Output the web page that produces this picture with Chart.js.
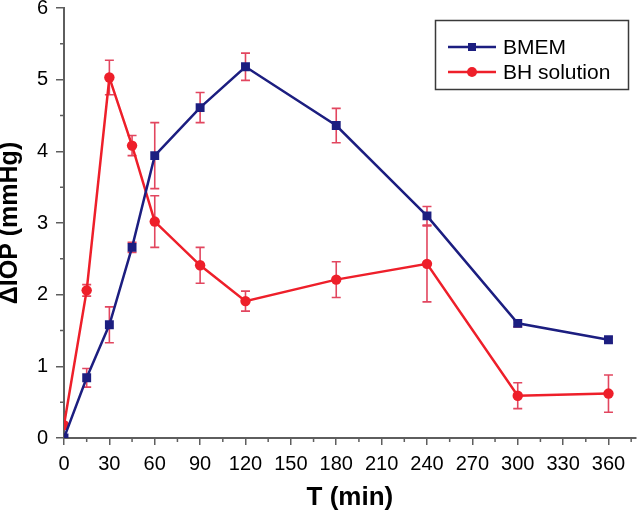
<!DOCTYPE html>
<html>
<head>
<meta charset="utf-8">
<script src="https://cdn.jsdelivr.net/npm/chart.js@4"></script>
<style>
  html, body { margin: 0; padding: 0; background: #fff; }
  #wrap { width: 642px; height: 515px; }
</style>
</head>
<body>
<div id="wrap"><canvas id="chart" width="642" height="515"></canvas></div>
<script>
// values (time in min, change in IOP in mmHg)
const times = [0, 15, 30, 45, 60, 90, 120, 180, 240, 300, 360];
const bmem = [0, 0.84, 1.58, 2.66, 3.94, 4.61, 5.18, 4.36, 3.10, 1.60, 1.37];
const bmemErr = [0, 0.13, 0.25, 0.07, 0.46, 0.21, 0.19, 0.24, 0.13, 0.05, 0.04];
const bhSolution = [0.18, 2.06, 5.03, 4.08, 3.02, 2.41, 1.91, 2.21, 2.43, 0.59, 0.62];
const bhErr = [0, 0.08, 0.24, 0.14, 0.36, 0.25, 0.14, 0.25, 0.53, 0.18, 0.26];
const seriesNames = ['BMEM', 'BH solution'];
const xTickValues = [0, 30, 60, 90, 120, 150, 180, 210, 240, 270, 300, 330, 360];

const navy = '#1c1e80';
const red = '#ee1f2a';
const errColor = '#e2465f';
const axisColor = '#5e5e5e';
const FONT = '"Liberation Sans", Arial, sans-serif';

function toPoints(vals) {
  return times.map((t, i) => ({ x: t, y: vals[i] }));
}

// error bars, drawn under the lines through the chart's own scales
const errorBars = {
  id: 'errorBars',
  beforeDatasetsDraw(chart) {
    const { ctx, scales: { x, y } } = chart;
    const errs = [bmemErr, bhErr];
    ctx.save();
    ctx.strokeStyle = errColor;
    ctx.lineWidth = 1.6;
    chart.data.datasets.forEach((ds, di) => {
      ds.data.forEach((p, i) => {
        const e = errs[di][i];
        if (!e) return;
        const px = x.getPixelForValue(p.x);
        const top = y.getPixelForValue(p.y + e);
        const bot = y.getPixelForValue(p.y - e);
        ctx.beginPath();
        ctx.moveTo(px, top); ctx.lineTo(px, bot);
        ctx.moveTo(px - 4.5, top); ctx.lineTo(px + 4.5, top);
        ctx.moveTo(px - 4.5, bot); ctx.lineTo(px + 4.5, bot);
        ctx.stroke();
      });
    });
    ctx.restore();
  }
};

// minor ticks (every 15 min on x, every 0.5 on y)
const minorTicks = {
  id: 'minorTicks',
  afterDraw(chart) {
    const { ctx, scales: { x, y }, chartArea } = chart;
    ctx.save();
    ctx.strokeStyle = axisColor;
    ctx.lineWidth = 1.5;
    ctx.beginPath();
    for (let v = 15; v <= x.max; v += 30) {
      const px = x.getPixelForValue(v);
      ctx.moveTo(px, chartArea.bottom);
      ctx.lineTo(px, chartArea.bottom + 4);
    }
    for (let v = 0.5; v < y.max; v += 1) {
      const py = y.getPixelForValue(v);
      ctx.moveTo(chartArea.left, py);
      ctx.lineTo(chartArea.left - 4, py);
    }
    ctx.stroke();
    ctx.restore();
  }
};

// boxed legend with line + marker samples, top right
const boxLegend = {
  id: 'boxLegend',
  afterDraw(chart) {
    const { ctx } = chart;
    ctx.save();
    ctx.strokeStyle = '#3a3a3a';
    ctx.lineWidth = 1.5;
    ctx.strokeRect(435.5, 20.5, 193, 69);
    ctx.font = '21px ' + FONT;
    ctx.textBaseline = 'middle';
    chart.data.datasets.forEach((ds, i) => {
      const yy = 47 + i * 25;
      ctx.strokeStyle = ds.borderColor;
      ctx.lineWidth = 2.5;
      ctx.beginPath();
      ctx.moveTo(448, yy); ctx.lineTo(496, yy);
      ctx.stroke();
      ctx.fillStyle = ds.borderColor;
      if (ds.pointStyle === 'rect') {
        ctx.fillRect(468, yy - 4, 8, 8);
      } else {
        ctx.beginPath();
        ctx.arc(472, yy, 5, 0, Math.PI * 2);
        ctx.fill();
      }
      ctx.fillStyle = '#000';
      ctx.fillText(seriesNames[i], 503, yy + 1);
    });
    ctx.restore();
  }
};

new Chart(document.getElementById('chart'), {
  type: 'line',
  data: {
    datasets: [
      {
        label: seriesNames[0],
        data: toPoints(bmem),
        borderColor: navy,
        backgroundColor: navy,
        borderWidth: 2.5,
        pointStyle: 'rect',
        pointRadius: 6.3,
        pointBorderWidth: 0,
        tension: 0
      },
      {
        label: seriesNames[1],
        data: toPoints(bhSolution),
        borderColor: red,
        backgroundColor: red,
        borderWidth: 2.5,
        pointStyle: 'circle',
        pointRadius: 5.2,
        pointBorderWidth: 0,
        tension: 0
      }
    ]
  },
  options: {
    responsive: false,
    animation: false,
    layout: { padding: { left: 0, top: 8, right: 2, bottom: 0 } },
    plugins: {
      legend: { display: false },
      tooltip: { enabled: false }
    },
    scales: {
      x: {
        type: 'linear',
        min: 0,
        max: 378,
        afterBuildTicks(s) {
          s.ticks = xTickValues.map(v => ({ value: v }));
        },
        afterFit(s) {
          s.height = 77;
          s.paddingLeft = 0; s.paddingRight = 0;
        },
        ticks: {
          maxRotation: 0,
          autoSkip: false,
          padding: 7,
          color: '#000',
          font: { family: FONT, size: 20 }
        },
        grid: { drawOnChartArea: false, drawTicks: true, tickLength: 7, color: axisColor, lineWidth: 1.5 },
        border: { display: true, color: axisColor, width: 2 },
        title: {
          display: true,
          text: 'T (min)',
          color: '#000',
          padding: { top: 0, bottom: 4 },
          font: { family: FONT, size: 26, weight: 'bold', lineHeight: 1 }
        }
      },
      y: {
        min: 0,
        max: 6,
        afterFit(s) {
          s.width = 64;
          s.paddingTop = 0; s.paddingBottom = 0;
        },
        ticks: {
          stepSize: 1,
          padding: 8,
          color: '#000',
          font: { family: FONT, size: 20 }
        },
        grid: { drawOnChartArea: false, drawTicks: true, tickLength: 8, color: axisColor, lineWidth: 1.5 },
        border: { display: true, color: axisColor, width: 2 },
        title: {
          display: true,
          text: 'ΔIOP (mmHg)',
          color: '#000',
          padding: { top: -2, bottom: 0 },
          font: { family: FONT, size: 25, weight: 'bold', lineHeight: 1 }
        }
      }
    }
  },
  plugins: [errorBars, minorTicks, boxLegend]
});
</script>
</body>
</html>
